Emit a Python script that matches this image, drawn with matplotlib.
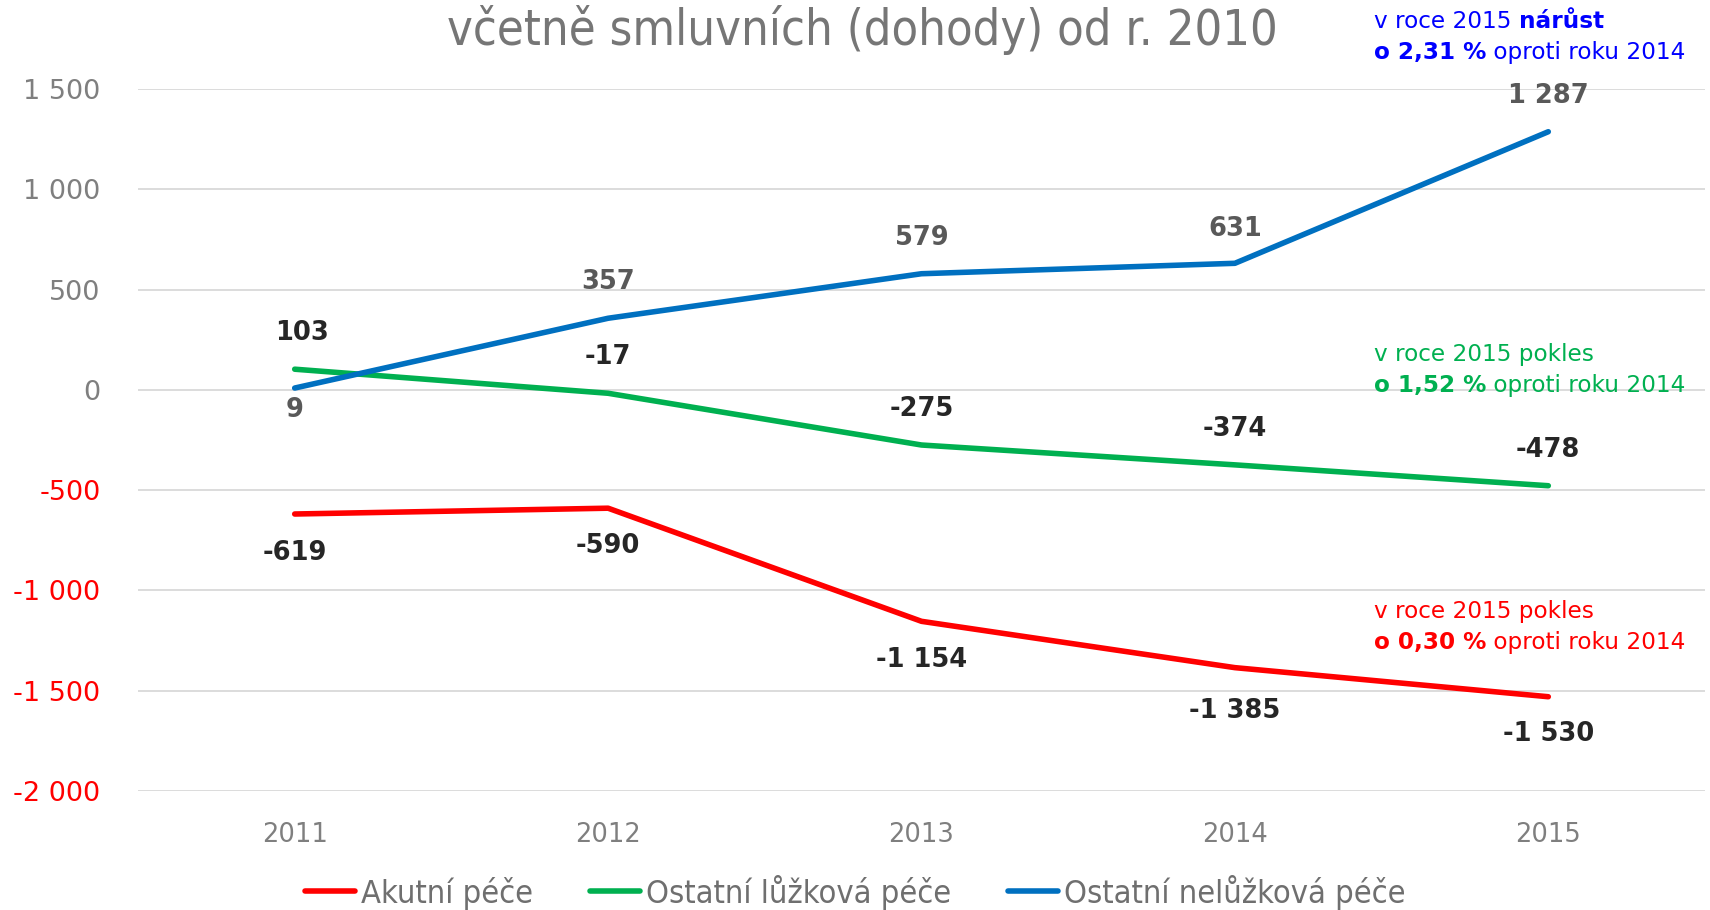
import numpy as np
import matplotlib.pyplot as plt

# data
years = ['2011', '2012', '2013', '2014', '2015']
akutni = [-619, -590, -1154, -1385, -1530]
ostatni_luzkova = [103, -17, -275, -374, -478]
ostatni_neluzkova = [9, 357, 579, 631, 1287]
series_names = ['Akutní péče', 'Ostatní lůžková péče', 'Ostatní nelůžková péče']
y_ticks = [1500, 1000, 500, 0, -500, -1000, -1500, -2000]
title = 'včetně smluvních (dohody) od r. 2010'
notes = [
    ('v roce 2015 ', 'nárůst', 'o 2,31 %', ' oproti roku 2014'),
    ('v roce 2015 pokles', '', 'o 1,52 %', ' oproti roku 2014'),
    ('v roce 2015 pokles', '', 'o 0,30 %', ' oproti roku 2014'),
]

RED = '#FF0000'
GREEN = '#00B050'
BLUE = '#0070C0'
NOTE_BLUE = '#0000FF'
GRAY = '#7F7F7F'


def fmt(v):
    s = '{:,}'.format(abs(v)).replace(',', ' ')
    return ('-' if v < 0 else '') + s


def rich_line(ax, x, y, parts, color, size):
    '''
    Draws one line made of (text, bold) parts, left to right
    '''
    prev = None
    for txt, bold in parts:
        if not txt:
            continue
        w = 'bold' if bold else 'normal'
        if prev is None:
            prev = ax.text(x, y, txt, transform=ax.figure.transFigure,
                           color=color, fontsize=size, fontweight=w,
                           ha='left', va='center')
        else:
            prev = ax.annotate(txt, xy=(1, 0), xycoords=prev, color=color,
                               fontsize=size, fontweight=w,
                               ha='left', va='bottom')


fig = plt.figure(figsize=(17.1, 9.1), dpi=100)
ax = fig.add_axes([138 / 1710, 1 - 791 / 910, 1567 / 1710, 702 / 910])

x = np.arange(len(years))
lines = []
for vals, col, name in zip([akutni, ostatni_luzkova, ostatni_neluzkova],
                           [RED, GREEN, BLUE], series_names):
    l, = ax.plot(x, vals, color=col, lw=4, solid_capstyle='round',
                 solid_joinstyle='round', label=name, zorder=3)
    lines.append(l)

# data labels (offset in points)
label_off = [
    (akutni, '#262626', [-28, -27, -28, -31, -27]),
    (ostatni_luzkova, '#262626', [26, 26, 26, 26, 26]),
    (ostatni_neluzkova, '#595959', [-16, 26, 26, 25, 26]),
]
for vals, col, offs in label_off:
    for i, v in enumerate(vals):
        dx = 5 if (vals is ostatni_luzkova and i == 0) else 0
        ax.annotate(fmt(v), (x[i], v), xytext=(dx, offs[i]),
                    textcoords='offset points', ha='center', va='center',
                    fontsize=18.5, fontweight='bold', color=col, zorder=4)

ax.set_xlim(-0.5, len(years) - 0.5)
ax.set_ylim(-2000, 1500)
ax.set_yticks(y_ticks)
ax.set_yticklabels([fmt(v) for v in y_ticks], fontsize=19.5)
for lab, v in zip(ax.get_yticklabels(), y_ticks):
    lab.set_color(RED if v < 0 else GRAY)
ax.set_xticks(x)
ax.set_xticklabels(years, fontsize=18.5, color=GRAY)
ax.tick_params(axis='both', length=0)
ax.tick_params(axis='y', pad=27)
ax.tick_params(axis='x', pad=22)
ax.grid(axis='y', color='#D9D9D9', lw=1.3, zorder=0)
for s in ax.spines.values():
    s.set_visible(False)

fig.text(862 / 1710, 1 - 30 / 910, title, ha='center', va='center',
         fontsize=35, color='#767676', fontstretch='condensed')

# notes on the right
note_pos = [(21.0, 53.0), (355.0, 385.5), (611.5, 643.0)]
for (a, b, c, d), col, (y1, y2) in zip(notes, [NOTE_BLUE, GREEN, RED], note_pos):
    rich_line(ax, 1374 / 1710, 1 - y1 / 910, [(a, False), (b, True)], col, 16.7)
    rich_line(ax, 1374 / 1710, 1 - y2 / 910, [(c, True), (d, False)], col, 16.7)

leg = fig.legend(handles=lines, loc='center', bbox_to_anchor=(0.5, 1 - 892 / 910),
                 ncol=3, frameon=False, handlelength=1.55,
                 handletextpad=0.17, columnspacing=1.75,
                 prop={'size': 23.4, 'stretch': 'condensed'})
for t in leg.get_texts():
    t.set_color('#6F6F6F')

fig.savefig('out.png', dpi=100)
